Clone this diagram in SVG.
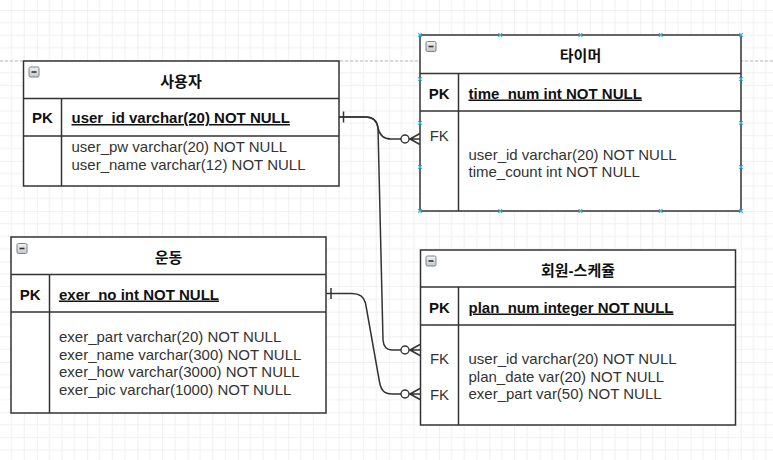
<svg xmlns="http://www.w3.org/2000/svg" width="773" height="460" viewBox="0 0 773 460">
<style>
.t{font-family:"Liberation Sans","Noto Sans CJK KR",sans-serif;font-size:15px;fill:#333}
.b{font-weight:bold;fill:#111}
.ttl{font-weight:bold;fill:#111;text-anchor:middle}
.c{text-anchor:middle}
.u{text-decoration:underline}
.box{fill:#fff;stroke:#333;stroke-width:1.5}
.ln{stroke:#333;stroke-width:1.5;fill:none}
.edge{fill:none;stroke:#333;stroke-width:1.5}
.mk{fill:#fff;stroke:#333;stroke-width:1.4}
.h{stroke:#29b6f2;stroke-width:1.2}
</style>
<defs>
<pattern id="grid" patternUnits="userSpaceOnUse" x="36.84" y="10" width="50.28" height="50.28">
<rect x="0" y="0" width="50.28" height="50.28" fill="#fff"/>
<g fill="#f1f1f1">
<rect x="12.07" y="0" width="1" height="50.28"/>
<rect x="24.64" y="0" width="1" height="50.28"/>
<rect x="37.21" y="0" width="1" height="50.28"/>
<rect x="0" y="12.07" width="50.28" height="1"/>
<rect x="0" y="24.64" width="50.28" height="1"/>
<rect x="0" y="37.21" width="50.28" height="1"/>
</g>
<g fill="#e3e3e3">
<rect x="-0.5" y="0" width="1" height="50.28"/>
<rect x="0" y="-0.5" width="50.28" height="1"/>
</g>
</pattern>
<linearGradient id="ig" x1="0" y1="0" x2="0" y2="1">
<stop offset="0" stop-color="#f2f2f2"/>
<stop offset="1" stop-color="#c4c8cc"/>
</linearGradient>
<g id="icon">
<rect x="0.5" y="0.5" width="10" height="10" rx="1.5" fill="url(#ig)" stroke="#7d8186" stroke-width="1"/>
<line x1="3" y1="5.5" x2="8" y2="5.5" stroke="#333" stroke-width="1.6"/>
</g>
<g id="hx">
<line x1="-1.8" y1="-1.8" x2="1.8" y2="1.8"/>
<line x1="-1.8" y1="1.8" x2="1.8" y2="-1.8"/>
</g>
</defs>
<rect x="0" y="0" width="773" height="460" fill="url(#grid)"/>
<line x1="0" y1="61" x2="773" y2="61" stroke="#bdbdbd" stroke-width="1" stroke-dasharray="3 2"/>

<g id="connectors">
<path class="edge" d="M339,117 L366,117 C374,117 377,121 378,128 C379.5,135 383,139 391,139 L401,139"/>
<path class="edge" d="M339,117 L366,117 C374,117 377,121 378,128 L383,340 C383.5,346 386,350 392,350 L401,350"/>
<path class="edge" d="M326,293.5 L352,293.5 C360,293.5 364,297 365.5,303 L379.5,382 C381,390 384,394 392,394 L401,394"/>
<line class="edge" x1="343.5" y1="111.5" x2="343.5" y2="122.5"/>
<line class="edge" x1="331" y1="288" x2="331" y2="299"/>
<g>
<circle class="mk" cx="405" cy="139" r="4"/>
<path class="edge" d="M409,139 L420,139 M410,139 L420,133.5 M410,139 L420,144.5"/>
<circle class="mk" cx="405" cy="350" r="4"/>
<path class="edge" d="M409,350 L420,350 M410,350 L420,344.5 M410,350 L420,355.5"/>
<circle class="mk" cx="405" cy="394" r="4"/>
<path class="edge" d="M409,394 L420,394 M410,394 L420,388.5 M410,394 L420,399.5"/>
</g>
</g>

<g id="users">
<rect class="box" x="23.5" y="61" width="315.5" height="125"/>
<line class="ln" x1="23.5" y1="98.5" x2="339" y2="98.5"/>
<line class="ln" x1="23.5" y1="136" x2="339" y2="136"/>
<line class="ln" x1="61.5" y1="98.5" x2="61.5" y2="186"/>
<use href="#icon" x="28.5" y="66.5"/>
<text class="t ttl" x="181" y="86.5">사용자</text>
<text class="t b c" x="42.5" y="123">PK</text>
<text class="t b u" x="71.5" y="123">user_id varchar(20) NOT NULL</text>
<text class="t" x="71.5" y="152">user_pw varchar(20) NOT NULL</text>
<text class="t" x="71.5" y="170">user_name varchar(12) NOT NULL</text>
</g>

<g id="timer">
<rect class="box" x="420" y="35" width="321" height="176"/>
<line class="ln" x1="420" y1="73.5" x2="741" y2="73.5"/>
<line class="ln" x1="420" y1="111" x2="741" y2="111"/>
<line class="ln" x1="458.5" y1="73.5" x2="458.5" y2="211"/>
<use href="#icon" x="425.5" y="41"/>
<text class="t ttl" x="580.5" y="61">타이머</text>
<text class="t b c" x="439.25" y="98.5">PK</text>
<text class="t b u" x="468.5" y="98.5">time_num int NOT NULL</text>
<text class="t c" x="439.25" y="141">FK</text>
<text class="t" x="468.5" y="159.5">user_id varchar(20) NOT NULL</text>
<text class="t" x="468.5" y="177">time_count int NOT NULL</text>
<g class="h">
<use href="#hx" x="420" y="35"/><use href="#hx" x="500.25" y="35"/><use href="#hx" x="580.5" y="35"/><use href="#hx" x="660.75" y="35"/><use href="#hx" x="741" y="35"/>
<use href="#hx" x="420" y="211"/><use href="#hx" x="500.25" y="211"/><use href="#hx" x="580.5" y="211"/><use href="#hx" x="660.75" y="211"/><use href="#hx" x="741" y="211"/>
<use href="#hx" x="420" y="79"/><use href="#hx" x="420" y="123"/><use href="#hx" x="420" y="167"/>
<use href="#hx" x="741" y="79"/><use href="#hx" x="741" y="123"/><use href="#hx" x="741" y="167"/>
</g>
</g>

<g id="exercise">
<rect class="box" x="11" y="237" width="315" height="176"/>
<line class="ln" x1="11" y1="274.5" x2="326" y2="274.5"/>
<line class="ln" x1="11" y1="312" x2="326" y2="312"/>
<line class="ln" x1="49.5" y1="274.5" x2="49.5" y2="413"/>
<use href="#icon" x="16.5" y="243"/>
<text class="t ttl" x="168.5" y="263">운동</text>
<text class="t b c" x="30.25" y="299.5">PK</text>
<text class="t b u" x="59" y="299.5">exer_no int NOT NULL</text>
<text class="t" x="59" y="342.2">exer_part varchar(20) NOT NULL</text>
<text class="t" x="59" y="359.8">exer_name varchar(300) NOT NULL</text>
<text class="t" x="59" y="377.4">exer_how varchar(3000) NOT NULL</text>
<text class="t" x="59" y="395">exer_pic varchar(1000) NOT NULL</text>
</g>

<g id="schedule">
<rect class="box" x="420.5" y="250" width="315" height="175"/>
<line class="ln" x1="420.5" y1="287" x2="735.5" y2="287"/>
<line class="ln" x1="420.5" y1="325" x2="735.5" y2="325"/>
<line class="ln" x1="458.5" y1="287" x2="458.5" y2="425"/>
<use href="#icon" x="425.5" y="255.5"/>
<text class="t ttl" x="578" y="275.5">회원-스케쥴</text>
<text class="t b c" x="439.5" y="312.5">PK</text>
<text class="t b u" x="468.5" y="312.5">plan_num integer NOT NULL</text>
<text class="t c" x="439.5" y="364">FK</text>
<text class="t c" x="439.5" y="399.5">FK</text>
<text class="t" x="468.5" y="364">user_id varchar(20) NOT NULL</text>
<text class="t" x="468.5" y="381.5">plan_date var(20) NOT NULL</text>
<text class="t" x="468.5" y="399">exer_part var(50) NOT NULL</text>
</g>
</svg>
